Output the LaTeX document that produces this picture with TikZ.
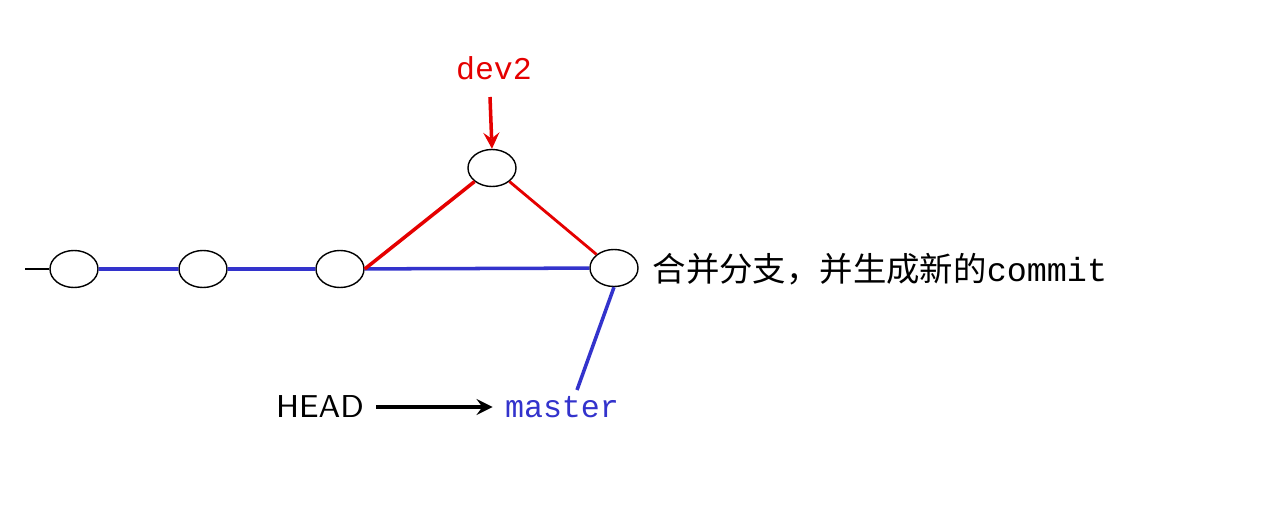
\documentclass[tikz,border=0pt]{standalone}
\usepackage{fontspec}
\usetikzlibrary{shapes.geometric}
\newfontfamily\cjk{Noto Sans CJK SC}
\setmonofont{Liberation Mono}
\begin{document}
\begin{tikzpicture}[x=0.01cm,y=-0.01cm,
  commit/.style={draw=black,ellipse,inner sep=0pt,minimum width=0.48cm,minimum height=0.37cm,thin},
  lbl/.style={font=\ttfamily\fontsize{9}{11}\selectfont}]
\useasboundingbox (0,0) rectangle (1275,509);
\node[commit] (c1) at (74,269) {};
\node[commit] (c2) at (203,269) {};
\node[commit] (c3) at (340,269) {};
\node[commit] (d) at (492,168) {};
\node[commit] (m) at (614,268) {};
\coordinate (s) at (25,269);
\draw[thin] (s) -- (c1);
\draw[blue!75!black!80,line width=1pt] (c1) -- (c2) -- (c3) -- (m);
\draw[red!90!black,line width=1pt] (c3.east) -- (d.south west);
\draw[red!90!black,line width=0.8pt] (d.south east) -- (m.north west);
\node[lbl,text=red!90!black] (dev) at (494,68) {dev2};
\coordinate (da) at (490,97);
\draw[red!90!black,line width=1pt,-stealth] (da) -- (d.north);
\node[lbl,font=\sffamily\fontsize{9}{11}\selectfont] (head) at (320,407) {HEAD};
\node[lbl,text=blue!75!black!80] (master) at (562,407) {master};
\draw[line width=1pt,-stealth] (head.east) -- (master.west);
\coordinate (mt) at (577,390);
\draw[blue!75!black!80,line width=1pt] (m.south) -- (mt);
\node[anchor=west,inner sep=0pt,font=\fontsize{9.5}{11}\selectfont] (t) at (652,269) {{\cjk 合并分支，并生成新的}\ttfamily commit};
\end{tikzpicture}
\end{document}
